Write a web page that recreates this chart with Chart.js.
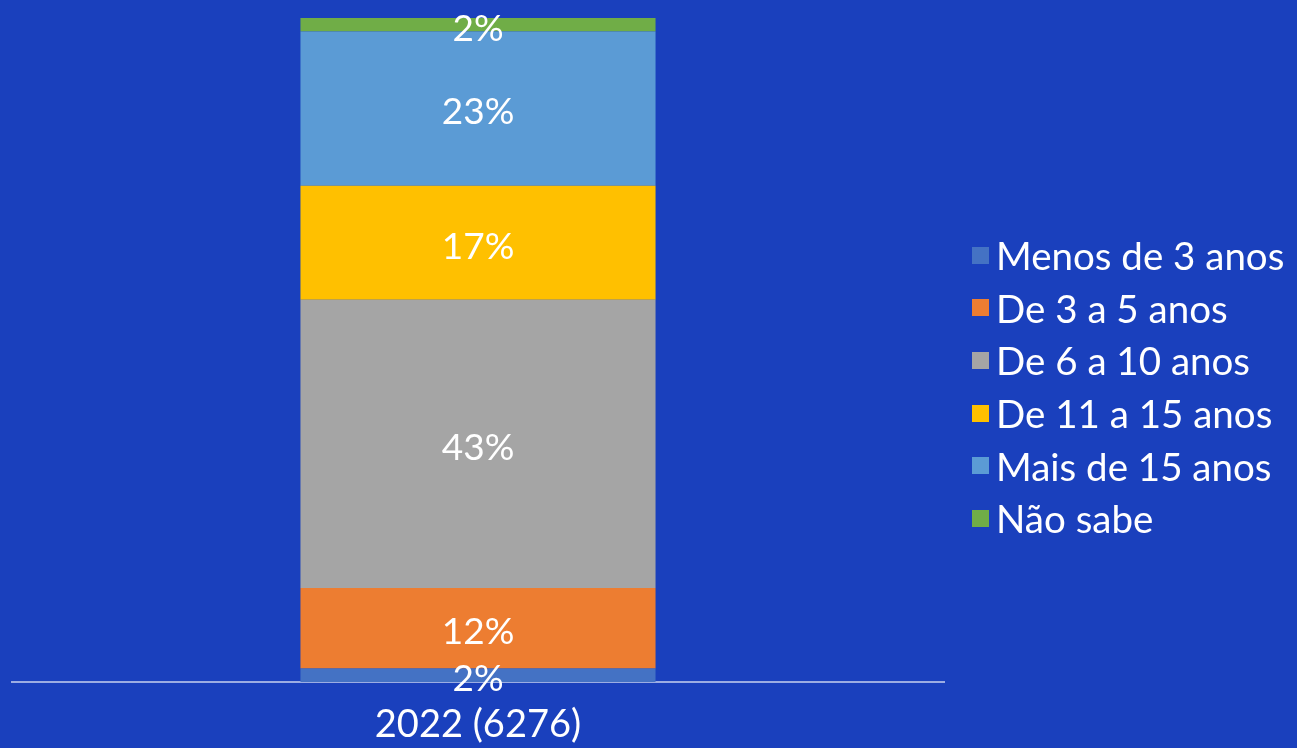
<!DOCTYPE html>
<html>
<head>
<meta charset="utf-8">
<script src="https://cdn.jsdelivr.net/npm/chart.js@4"></script>
<style>
  html, body { margin: 0; padding: 0; background: #1a40bd; overflow: hidden; }
  #wrap { position: relative; width: 1297px; height: 748px; }
  #legend { position: absolute; left: 972px; top: 229px; font-family: Lato, sans-serif; font-size: 38.5px; color: #fff; }
  #legend div { height: 52.6px; display: flex; align-items: center; white-space: nowrap; }
  #legend span.box { display: inline-block; width: 17px; height: 17px; margin-right: 7px; }
</style>
</head>
<body>
<div id="wrap">
  <canvas id="grafico" width="1297" height="748"></canvas>
  <div id="legend"></div>
</div>
<script>
// dados
const categorias = ['2022 (6276)'];
const series = ['Menos de 3 anos', 'De 3 a 5 anos', 'De 6 a 10 anos', 'De 11 a 15 anos', 'Mais de 15 anos', 'Não sabe'];
const valores = [2, 12, 43, 17, 23, 2];
const cores = ['#4472c4', '#ed7d31', '#a5a5a5', '#ffc000', '#5b9bd5', '#70ad47'];

const total = valores.reduce((a, b) => a + b, 0);

// rótulos de valor no meio de cada segmento
const rotulosPlugin = {
    id: 'rotulos',
    afterDatasetsDraw(chart) {
        const ctx = chart.ctx;
        ctx.save();
        ctx.fillStyle = '#ffffff';
        ctx.font = '37px Lato, sans-serif';
        ctx.textAlign = 'center';
        ctx.textBaseline = 'middle';
        chart.data.datasets.forEach((ds, i) => {
            const meta = chart.getDatasetMeta(i);
            meta.data.forEach((bar, j) => {
                const y = (bar.y + bar.base) / 2 + 4;
                ctx.fillText(ds.data[j] + '%', bar.x, y);
            });
        });
        ctx.restore();
    }
};

const grafico = new Chart(document.getElementById('grafico'), {
    type: 'bar',
    data: {
        labels: categorias,
        datasets: series.map((nome, i) => ({
            label: nome,
            data: [valores[i]],
            backgroundColor: cores[i],
            borderWidth: 0,
            categoryPercentage: 1,
            barPercentage: 0.381
        }))
    },
    options: {
        responsive: false,
        animation: false,
        layout: { padding: { left: 12, top: 18, right: 353, bottom: 0 } },
        plugins: {
            legend: { display: false },
            tooltip: { enabled: false }
        },
        scales: {
            x: {
                stacked: true,
                grid: { display: false, drawTicks: false, tickLength: 0 },
                border: { display: true, color: 'rgba(200,210,240,0.75)', width: 2 },
                ticks: { color: '#ffffff', font: { family: 'Lato, sans-serif', size: 38 }, padding: 20 },
                afterFit(scale) { scale.height = 66; }
            },
            y: {
                stacked: true,
                display: false,
                min: 0,
                max: total
            }
        }
    },
    plugins: [rotulosPlugin]
});

// legenda em html
const legenda = document.getElementById('legend');
grafico.data.datasets.forEach(ds => {
    const item = document.createElement('div');
    item.innerHTML = '<span class="box" style="background:' + ds.backgroundColor + '"></span>' + ds.label;
    legenda.appendChild(item);
});
</script>
</body>
</html>
